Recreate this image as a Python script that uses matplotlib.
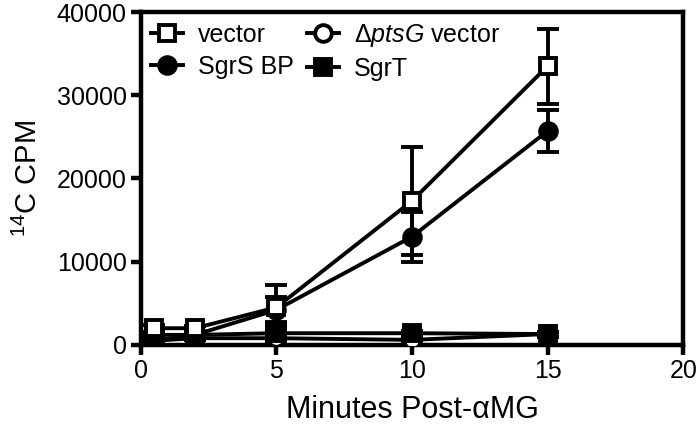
import matplotlib
matplotlib.use('Agg')
import matplotlib.pyplot as plt

plt.rcParams['font.family'] = ['Liberation Sans', 'DejaVu Sans']
plt.rcParams['mathtext.fontset'] = 'custom'
plt.rcParams['mathtext.rm'] = 'Liberation Sans'
plt.rcParams['mathtext.it'] = 'Liberation Sans:italic'

# minutes post-aMG
minutes = [0.5, 2, 5, 10, 15]

vector = [2000, 2000, 4500, 17300, 33500]
vector_err = [400, 300, 2700, 6500, 4500]

ptsg_vector = [500, 800, 800, 600, 1300]
ptsg_err = [200, 200, 300, 200, 300]

sgrs_bp = [500, 1200, 4200, 13000, 25700]
sgrs_err = [200, 300, 1500, 3000, 2500]

sgrt = [1200, 1200, 1400, 1400, 1300]
sgrt_err = [200, 200, 900, 300, 300]

fig = plt.figure(figsize=(7, 4.3), dpi=100)
ax = fig.add_axes([0.201, 0.198, 0.775, 0.774])

lw = 2.8
common = dict(color='black', lw=lw, capsize=8, capthick=lw, elinewidth=lw,
              markersize=12, markeredgewidth=lw)

ax.errorbar(minutes, ptsg_vector, yerr=ptsg_err, marker='o', mfc='white',
            label=r'$\Delta\mathit{ptsG}$ vector', zorder=3, **common)
ax.errorbar(minutes, sgrt, yerr=sgrt_err, marker='s', mfc='black',
            label='SgrT', zorder=3, **common)
ax.errorbar(minutes, sgrs_bp, yerr=sgrs_err, marker='o', mfc='black',
            label='SgrS BP', zorder=4, **common)
ax.errorbar(minutes, vector, yerr=vector_err, marker='s', mfc='white',
            label='vector', zorder=5, **common)

ax.set_xlim(0, 20)
ax.set_ylim(0, 40000)
ax.set_xticks([0, 5, 10, 15, 20])
ax.set_yticks([0, 10000, 20000, 30000, 40000])

for s in ax.spines.values():
    s.set_linewidth(3.2)
ax.tick_params(direction='out', length=7, width=3.2, labelsize=18, pad=3)

ax.set_xlabel('Minutes Post-αMG', fontsize=22, labelpad=9)
ax.set_ylabel(r'$^{14}$C CPM', fontsize=21, labelpad=10)

handles, labels = ax.get_legend_handles_labels()
order = [3, 2, 0, 1]
ax.legend([handles[i][0] for i in order], [labels[i] for i in order],
          loc='upper left', ncol=2, frameon=False, fontsize=18,
          handlelength=1.3, handletextpad=0.6, columnspacing=0.5,
          labelspacing=0.3, borderaxespad=0.2, borderpad=0.2)

fig.savefig('out.png', dpi=100)
